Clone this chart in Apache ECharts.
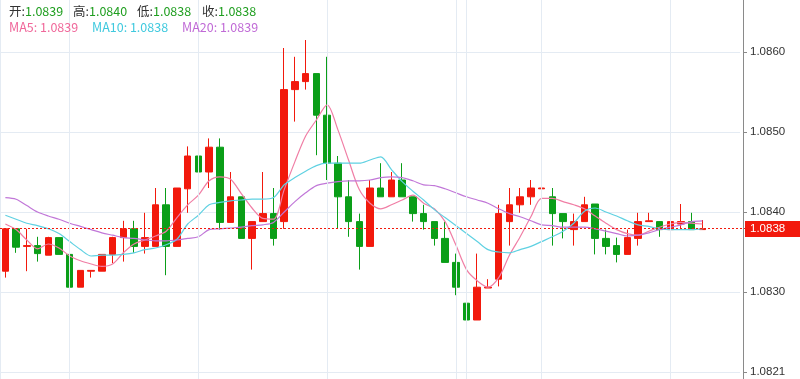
<!DOCTYPE html>
<html>
<head>
<meta charset="utf-8">
<script src="https://cdn.jsdelivr.net/npm/echarts@6/dist/echarts.min.js"></script>
<style>
html,body{margin:0;padding:0;background:#fff;}
#main{width:800px;height:379px;}
</style>
</head>
<body>
<div id="main"></div>
<script>
// ---- DATA ----
const categories = ['1','2','3','4','5','6','7','8','9','10','11','12','13','14','15','16','17','18','19','20',
  '21','22','23','24','25','26','27','28','29','30','31','32','33','34','35','36','37','38','39','40',
  '41','42','43','44','45','46','47','48','49','50','51','52','53','54','55','56','57','58','59','60',
  '61','62','63','64','65','66','67','68','69'];

// [open, close, low, high]
const candles = [
  [1.08326,1.08379,1.08318,1.08379],
  [1.08379,1.08356,1.08349,1.08379],
  [1.08357,1.08358,1.08326,1.08379],
  [1.08358,1.08348,1.08338,1.08369],
  [1.08346,1.08368,1.08346,1.08369],
  [1.08368,1.08347,1.08347,1.08368],
  [1.08347,1.08306,1.08305,1.08348],
  [1.08306,1.08327,1.08306,1.08327],
  [1.08326,1.08327,1.08318,1.08327],
  [1.08326,1.08347,1.08326,1.08347],
  [1.08347,1.08368,1.08336,1.08369],
  [1.08368,1.08379,1.08338,1.08389],
  [1.08379,1.08357,1.08349,1.08389],
  [1.08357,1.08368,1.08348,1.08399],
  [1.08357,1.08409,1.08357,1.08430],
  [1.08409,1.08357,1.08321,1.08430],
  [1.08357,1.08430,1.08357,1.08430],
  [1.08429,1.08470,1.08399,1.08482],
  [1.08470,1.08450,1.08450,1.08503],
  [1.08450,1.08481,1.08430,1.08492],
  [1.08481,1.08387,1.08378,1.08492],
  [1.08387,1.08419,1.08387,1.08450],
  [1.08419,1.08367,1.08367,1.08419],
  [1.08367,1.08388,1.08328,1.08388],
  [1.08388,1.08398,1.08388,1.08450],
  [1.08398,1.08367,1.08358,1.08430],
  [1.08388,1.08553,1.08379,1.08605],
  [1.08553,1.08563,1.08513,1.08594],
  [1.08563,1.08573,1.08553,1.08615],
  [1.08573,1.08521,1.08471,1.08573],
  [1.08521,1.08461,1.08440,1.08594],
  [1.08461,1.08419,1.08379,1.08470],
  [1.08419,1.08388,1.08369,1.08440],
  [1.08388,1.08357,1.08328,1.08398],
  [1.08357,1.08430,1.08357,1.08440],
  [1.08430,1.08419,1.08419,1.08461],
  [1.08419,1.08440,1.08419,1.08450],
  [1.08440,1.08419,1.08419,1.08461],
  [1.08419,1.08398,1.08388,1.08419],
  [1.08398,1.08388,1.08378,1.08409],
  [1.08388,1.08367,1.08358,1.08388],
  [1.08367,1.08337,1.08337,1.08388],
  [1.08337,1.08306,1.08296,1.08348],
  [1.08286,1.08265,1.08204,1.08328],
  [1.08265,1.08306,1.08265,1.08348],
  [1.08305,1.08306,1.08305,1.08316],
  [1.08316,1.08398,1.08307,1.08409],
  [1.08388,1.08409,1.08358,1.08430],
  [1.08409,1.08419,1.08399,1.08430],
  [1.08419,1.08430,1.08409,1.08440],
  [1.08429,1.08430,1.08419,1.08440],
  [1.08419,1.08398,1.08358,1.08430],
  [1.08398,1.08388,1.08367,1.08398],
  [1.08378,1.08388,1.08358,1.08398],
  [1.08388,1.08409,1.08388,1.08419],
  [1.08410,1.08367,1.08347,1.08410],
  [1.08367,1.08357,1.08347,1.08378],
  [1.08358,1.08347,1.08337,1.08368],
  [1.08347,1.08368,1.08347,1.08378],
  [1.08367,1.08388,1.08358,1.08399],
  [1.08388,1.08389,1.08388,1.08399],
  [1.08388,1.08378,1.08369,1.08388],
  [1.08378,1.08388,1.08378,1.08388],
  [1.08385,1.08388,1.08380,1.08410],
  [1.08388,1.08378,1.08378,1.08399],
  [1.08378,1.08379,1.08378,1.08390]
];

const ma5 = [1.08385,1.08378,1.08365,1.08354,1.08360,1.08355,1.08345,1.08339,1.08335,1.08332,
  1.08335,1.08349,1.08360,1.08365,1.08370,1.08376,1.08393,1.08409,1.08421,1.08439,
  1.08444,1.08441,1.08423,1.08405,1.08392,1.08391,1.08428,1.08463,1.08495,1.08515,
  1.08534,1.08503,1.08465,1.08428,1.08411,1.08404,1.08409,1.08415,1.08421,1.08411,
  1.08404,1.08388,1.08359,1.08328,1.08314,1.08306,1.08318,1.08346,1.08369,1.08394,
  1.08417,1.08417,1.08413,1.08409,1.08404,1.08395,1.08386,1.08378,1.08373,1.08371,
  1.08376,1.08381,1.08385,1.08387,1.08386,1.08385];

const ma10 = [1.08396,1.08391,1.08386,1.08383,1.08379,1.08373,1.08363,1.08353,1.08345,1.08346,
  1.08346,1.08347,1.08349,1.08353,1.08355,1.08359,1.08366,1.08385,1.08396,1.08409,
  1.08412,1.08414,1.08415,1.08416,1.08416,1.08418,1.08434,1.08443,1.08451,1.08458,
  1.08461,1.08461,1.08461,1.08461,1.08465,1.08469,1.08453,1.08438,1.08426,1.08415,
  1.08403,1.08393,1.08383,1.08373,1.08363,1.08353,1.08350,1.08349,1.08353,1.08357,
  1.08363,1.08369,1.08376,1.08386,1.08401,1.08405,1.08400,1.08395,1.08389,1.08384,
  1.08382,1.08379,1.08378,1.08378,1.08378,1.08379];

const ma20 = [1.08418,1.08416,1.08408,1.08400,1.08395,1.08391,1.08386,1.08382,1.08378,1.08374,
  1.08371,1.08368,1.08367,1.08365,1.08364,1.08364,1.08365,1.08367,1.08369,1.08378,
  1.08379,1.08380,1.08381,1.08383,1.08384,1.08387,1.08400,1.08413,1.08424,1.08433,
  1.08436,1.08438,1.08439,1.08439,1.08440,1.08443,1.08444,1.08443,1.08439,1.08434,
  1.08433,1.08429,1.08424,1.08419,1.08415,1.08411,1.08404,1.08398,1.08394,1.08389,
  1.08384,1.08383,1.08381,1.08381,1.08381,1.08379,1.08376,1.08373,1.08370,1.08371,
  1.08374,1.08378,1.08381,1.08384,1.08388,1.08389];

const yTickValues = [1.0820, 1.0830, 1.0840, 1.0850, 1.0860];
const yTickLabels = ['1.0821', '1.0830', '1.0840', '1.0850', '1.0860'];
const yMin = 1.0819125;
const yMax = 1.08665;
const vLineCategories = ['7','19','31','43','44','51','63'];
const lastPrice = 1.0838;

const ohlcLabels = ['开:', '高:', '低:', '收:'];
const ohlcValues = ['1.0839', '1.0840', '1.0838', '1.0838'];
const maNames = ['MA5', 'MA10', 'MA20'];
const maValues = ['1.0839', '1.0838', '1.0839'];

// ---- STYLE ----
const UP = '#f2190c';
const DOWN = '#0a9e18';
const MA_LINE_COLORS = ['#f07ea5', '#5fd1e2', '#c177d8'];
const MA_TEXT_COLORS = ['#f0679a', '#3fc9de', '#c06ad6'];
const GRID_COLOR = '#e4ebf3';
const FONT = '"Noto Sans CJK SC", "Noto Sans", sans-serif';
const AXIS_FONT = '"Liberation Sans", Arial, sans-serif';

const ohlcX = [9, 73, 137, 202];
const maX = [9, 92, 182];

const graphics = [];
ohlcLabels.forEach((lab, i) => {
  graphics.push({
    type: 'text', left: ohlcX[i], top: 5, z: 100, silent: true,
    style: {
      text: '{l|' + lab + '}{v|' + ohlcValues[i] + '}',
      rich: {
        l: { fill: '#333', fontSize: 12.5, fontFamily: FONT },
        v: { fill: '#1f9e1f', fontSize: 12.5, fontFamily: FONT }
      }
    }
  });
});
maNames.forEach((n, i) => {
  graphics.push({
    type: 'text', left: maX[i], top: 21, z: 100, silent: true,
    style: { text: n + ': ' + maValues[i], fill: MA_TEXT_COLORS[i], fontSize: 12.5, fontFamily: FONT }
  });
});

const chart = echarts.init(document.getElementById('main'), null, { renderer: 'canvas' });
chart.setOption({
  animation: false,
  backgroundColor: '#fff',
  grid: { left: 0, right: 60, top: 0, bottom: 0 },
  graphic: graphics,
  xAxis: {
    type: 'category',
    data: categories,
    boundaryGap: true,
    axisLine: { show: false },
    axisTick: { show: false },
    axisLabel: { show: false },
    splitLine: { show: false }
  },
  yAxis: {
    type: 'value',
    position: 'right',
    offset: 3,
    min: yMin,
    max: yMax,
    axisLine: { show: true, lineStyle: { color: '#8a8a8a', width: 1 } },
    axisTick: { show: true, length: 4, lineStyle: { color: '#8a8a8a' }, customValues: yTickValues },
    axisLabel: {
      show: true, margin: 7, color: '#333', fontSize: 11.5, fontFamily: AXIS_FONT,
      customValues: yTickValues,
      formatter: function (v) {
        const i = yTickValues.findIndex(t => Math.abs(t - v) < 1e-7);
        return i >= 0 ? yTickLabels[i] : v.toFixed(4);
      }
    },
    splitLine: { show: true, lineStyle: { color: GRID_COLOR, width: 1 } }
  },
  series: [
    {
      // invisible host series carrying the vertical background lines
      name: 'grid', type: 'line', data: ma20, z: 1, silent: true, symbol: 'none',
      lineStyle: { opacity: 0 },
      markLine: {
        silent: true, symbol: 'none', animation: false,
        label: { show: false },
        lineStyle: { color: GRID_COLOR, type: 'solid', width: 1 },
        emphasis: { disabled: true },
        data: vLineCategories.map(c => ({ xAxis: c }))
      }
    },
    {
      name: 'K', type: 'candlestick', data: candles, z: 3,
      barWidth: 7,
      itemStyle: { color: UP, color0: DOWN, borderColor: UP, borderColor0: DOWN, borderWidth: 1 }
    },
    { name: 'MA5', type: 'line', data: ma5, z: 4, symbol: 'none', smooth: 0.3, silent: true,
      lineStyle: { color: MA_LINE_COLORS[0], width: 1.2 } },
    { name: 'MA10', type: 'line', data: ma10, z: 4, symbol: 'none', smooth: 0.3, silent: true,
      lineStyle: { color: MA_LINE_COLORS[1], width: 1.2 } },
    { name: 'MA20', type: 'line', data: ma20, z: 4, symbol: 'none', smooth: 0.3, silent: true,
      lineStyle: { color: MA_LINE_COLORS[2], width: 1.2 } }
  ]
});

// last-price dotted line and tag on the right axis, positioned through the chart's own y scale
const tagY = Math.round(chart.convertToPixel({ yAxisIndex: 0 }, lastPrice));
chart.setOption({
  graphic: graphics.concat([
    {
      type: 'line', z: 5, silent: true,
      shape: { x1: 0, y1: tagY + 0.5, x2: 745, y2: tagY + 0.5 },
      style: { stroke: UP, lineWidth: 1, lineDash: [2, 2] }
    },
    {
      type: 'line', z: 0, silent: true,
      shape: { x1: 0.5, y1: 0, x2: 0.5, y2: 379 },
      style: { stroke: GRID_COLOR, lineWidth: 1 }
    },
    {
      type: 'group', left: 745, top: tagY - 7, z: 120, silent: true,
      children: [
        { type: 'rect', shape: { x: 0, y: 0, width: 60, height: 16 }, style: { fill: UP } },
        { type: 'text', x: 5, y: 8, style: { text: lastPrice.toFixed(4), fill: '#fff', fontSize: 11.5,
          fontFamily: AXIS_FONT, verticalAlign: 'middle' } }
      ]
    }
  ])
});
</script>
</body>
</html>
